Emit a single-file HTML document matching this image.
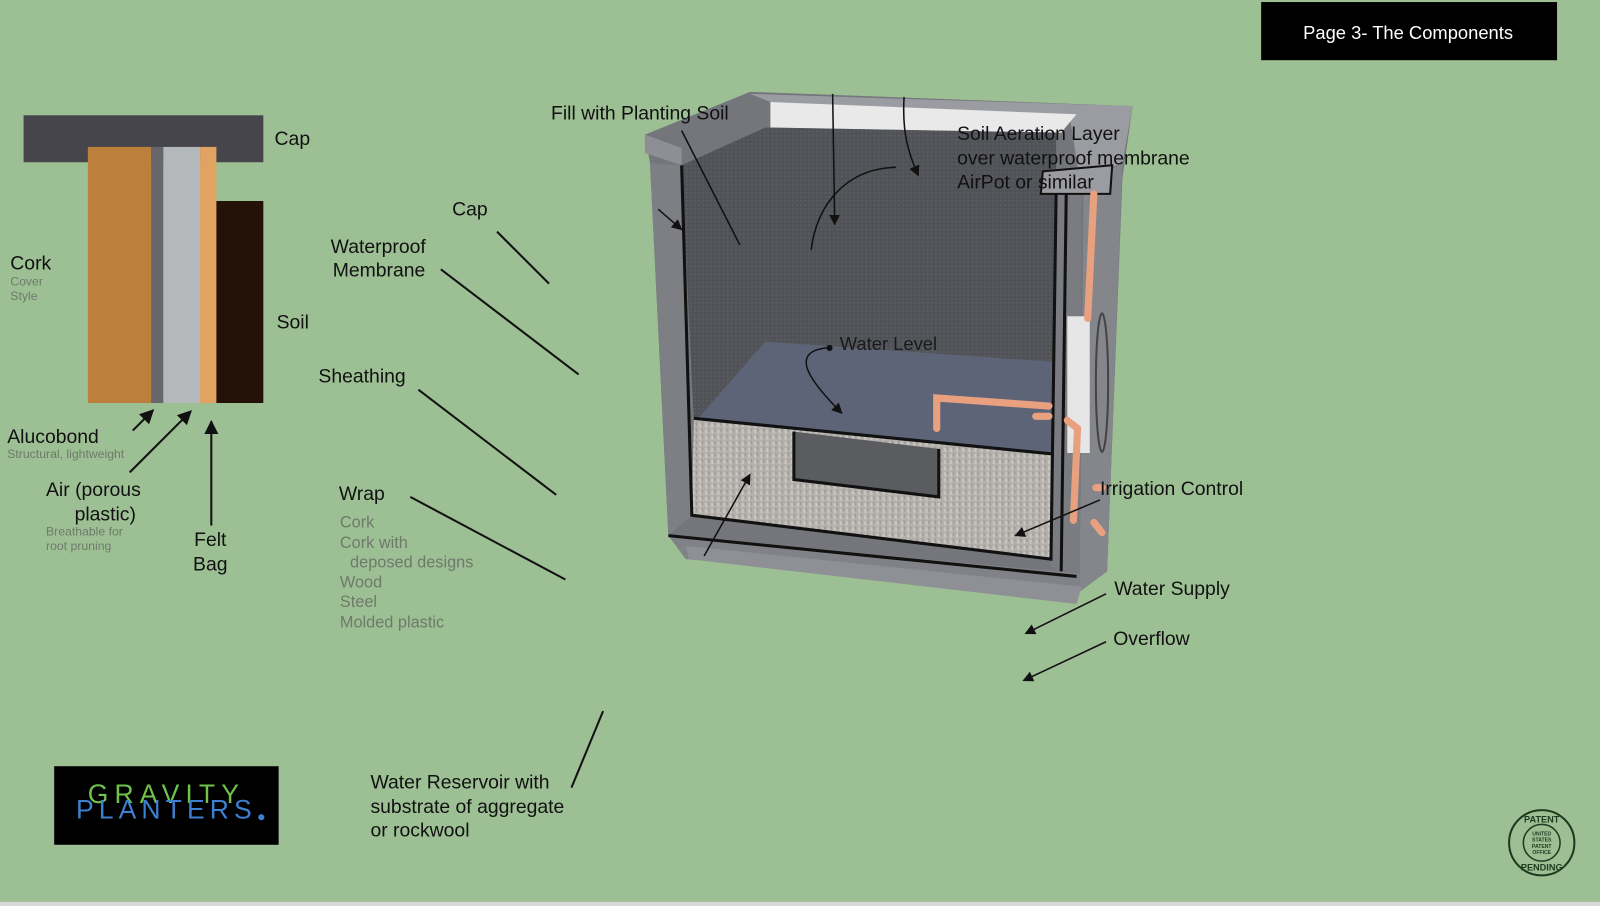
<!DOCTYPE html>
<html><head><meta charset="utf-8"><style>
html,body{margin:0;padding:0;background:#9dbf94;}
svg{display:block}
text{font-family:"Liberation Sans",sans-serif;}
</style></head><body>
<svg width="1600" height="906" viewBox="0 0 1568 888" xmlns="http://www.w3.org/2000/svg">
<defs>
<marker id="a" viewBox="0 0 10 10" refX="9" refY="5" markerWidth="7" markerHeight="7" orient="auto"><path d="M0,0L10,5L0,10z" fill="#111"/></marker>
<pattern id="grav" width="6" height="6" patternUnits="userSpaceOnUse"><rect width="6" height="6" fill="#b3b0ab"/><rect x="1" y="1" width="2" height="4" fill="#cac7c2"/><rect x="4" y="0" width="1" height="3" fill="#96938f"/></pattern>
<pattern id="wall" width="4" height="4" patternUnits="userSpaceOnUse"><rect width="4" height="4" fill="#505257"/><rect width="2" height="2" fill="#5a5c61"/></pattern>
</defs>
<rect width="1568" height="888" fill="#9dbf94"/>
<rect x="0" y="884" width="1568" height="4" fill="#d8d8d8"/>

<rect x="1236" y="2" width="290" height="57" fill="#000"/>
<text x="1380" y="38" font-size="18" fill="#fff" text-anchor="middle">Page 3- The Components</text>

<rect x="23" y="113" width="235" height="46" fill="#46454c"/>
<rect x="86" y="144" width="62" height="251" fill="#bc7f3c"/>
<rect x="148" y="144" width="12" height="251" fill="#66666c"/>
<rect x="160" y="144" width="36" height="251" fill="#b4b8ba"/>
<rect x="196" y="144" width="16" height="251" fill="#e1a362"/>
<rect x="212" y="197" width="46" height="198" fill="#241208"/>
<text x="269" y="142" font-size="19" fill="#111">Cap</text>
<text x="271" y="322" font-size="19" fill="#111">Soil</text>
<text x="10" y="264" font-size="19" fill="#111">Cork</text>
<text x="10" y="280" font-size="12" fill="#6e7a6a">Cover</text>
<text x="10" y="294" font-size="12" fill="#6e7a6a">Style</text>
<text x="7" y="434" font-size="19" fill="#111">Alucobond</text>
<text x="7" y="449" font-size="12" fill="#6e7a6a">Structural, lightweight</text>
<text x="45" y="486" font-size="19" fill="#111">Air (porous</text>
<text x="73" y="510" font-size="19" fill="#111">plastic)</text>
<text x="45" y="525" font-size="12" fill="#6e7a6a">Breathable for</text>
<text x="45" y="539" font-size="12" fill="#6e7a6a">root pruning</text>
<text x="206" y="535" font-size="19" fill="#111" text-anchor="middle">Felt</text>
<text x="206" y="559" font-size="19" fill="#111" text-anchor="middle">Bag</text>
<g stroke="#111" stroke-width="2" fill="none" marker-end="url(#a)">
<line x1="130" y1="422" x2="150" y2="402"/>
<line x1="127" y1="463" x2="187" y2="403"/>
<line x1="207" y1="515" x2="207" y2="413"/>
</g>

<text x="443" y="211" font-size="19" fill="#111">Cap</text>
<text x="324" y="248" font-size="19" fill="#111">Waterproof</text>
<text x="326" y="271" font-size="19" fill="#111">Membrane</text>
<text x="312" y="375" font-size="19" fill="#111">Sheathing</text>
<text x="332" y="490" font-size="19" fill="#111">Wrap</text>
<g font-size="16" fill="#6e7a6a">
<text x="333" y="517">Cork</text>
<text x="333" y="537">Cork with</text>
<text x="343" y="556">deposed designs</text>
<text x="333" y="576">Wood</text>
<text x="333" y="595">Steel</text>
<text x="333" y="615">Molded plastic</text>
</g>
<text x="363" y="773" font-size="19" fill="#111">Water Reservoir with</text>
<text x="363" y="797" font-size="19" fill="#111">substrate of aggregate</text>
<text x="363" y="820" font-size="19" fill="#111">or rockwool</text>
<g stroke="#111" stroke-width="2">
<line x1="487" y1="227" x2="538" y2="278"/>
<line x1="432" y1="264" x2="567" y2="367"/>
<line x1="410" y1="382" x2="545" y2="485"/>
<line x1="402" y1="487" x2="554" y2="568"/>
<line x1="560" y1="772" x2="591" y2="697"/>
</g>

<!-- planter -->
<polygon points="632,132 735,90 1110,104 1102,160 1100,175 1085,560 1058,580 680,548 655,525 637,160" fill="#74767c"/>
<polygon points="735,92 1110,104 1100,160 1058,175 1048,112 755,100" fill="#9a9ca1"/>
<polygon points="755,100 1055,112 1040,130 755,125" fill="#e9e9e9"/>
<polygon points="632,132 668,145 668,162 632,150" fill="#8d8f94"/>
<polygon points="637,160 668,162 678,505 655,525" fill="#7d7f85"/>
<polygon points="668,162 750,125 750,335 680,415" fill="url(#wall)"/>
<polygon points="750,125 1035,130 1035,355 750,335" fill="url(#wall)"/>
<polygon points="680,415 750,335 1035,355 1030,447" fill="#5e6478"/>
<polygon points="680,410 1032,445 1030,548 678,505" fill="url(#grav)"/>
<polygon points="778,423 920,440 920,487 778,470" fill="#5a5c60"/>
<polygon points="1062,180 1100,160 1085,560 1058,580" fill="#84868b"/>
<polygon points="1035,190 1060,185 1058,575 1030,555" fill="#7a7c82"/>
<polygon points="655,525 1058,562 1058,580 672,548" fill="#808287"/>
<polygon points="672,535 1060,575 1055,592 675,548" fill="#8e9095"/>
<g stroke="#111" stroke-width="3" fill="none">
<polyline points="668,162 678,505 1030,548 1035,190"/>
<polyline points="680,410 1032,445"/>
<polyline points="778,423 778,470 920,487 920,440"/>
<line x1="1045" y1="185" x2="1040" y2="560"/>
<line x1="655" y1="525" x2="1055" y2="565"/>
</g>
<polygon points="1022,168 1090,162 1088,190 1020,190" fill="#9a9ca1" stroke="#111" stroke-width="2"/>
<rect x="1046" y="310" width="22" height="134" fill="#e6e6e6"/>
<ellipse cx="1080" cy="375" rx="6" ry="68" fill="none" stroke="#444" stroke-width="2"/>
<g stroke="#e8a07f" stroke-width="7" fill="none" stroke-linecap="round">
<line x1="1072" y1="190" x2="1066" y2="312"/>
<polyline points="918,420 918,390 1028,398"/>
<polyline points="1015,408 1028,408"/>
<polyline points="1046,412 1056,420 1052,510"/>
<line x1="1072" y1="512" x2="1080" y2="522"/>
<line x1="1074" y1="478" x2="1080" y2="478"/>
</g>
<g stroke="#111" stroke-width="1.5" fill="none">
<line x1="816" y1="92" x2="818" y2="220" marker-end="url(#a)"/>
<path d="M886,95 C884,130 890,150 900,172" marker-end="url(#a)"/>
<path d="M878,164 C830,165 800,200 795,245"/>
<line x1="668" y1="128" x2="725" y2="240"/>
<line x1="645" y1="205" x2="668" y2="225" marker-end="url(#a)"/>
<path d="M810,341 C775,345 790,370 825,405" marker-end="url(#a)"/>
<line x1="690" y1="545" x2="735" y2="465" marker-end="url(#a)"/>
<line x1="1078" y1="490" x2="995" y2="525" marker-end="url(#a)"/>
<line x1="1084" y1="582" x2="1005" y2="621" marker-end="url(#a)"/>
<line x1="1084" y1="629" x2="1003" y2="667" marker-end="url(#a)"/>
</g>
<circle cx="813" cy="341" r="3" fill="#111"/>
<text x="540" y="117" font-size="19" fill="#111">Fill with Planting Soil</text>
<text x="938" y="137" font-size="19" fill="#111">Soil Aeration Layer</text>
<text x="938" y="161" font-size="19" fill="#111">over waterproof membrane</text>
<text x="938" y="185" font-size="19" fill="#111">AirPot or similar</text>
<text x="823" y="343" font-size="18" fill="#1a1a1a" font-family="Liberation Serif">Water Level</text>
<text x="1078" y="485" font-size="19" fill="#111">Irrigation Control</text>
<text x="1092" y="583" font-size="19" fill="#111">Water Supply</text>
<text x="1091" y="632" font-size="19" fill="#111">Overflow</text>

<rect x="53" y="751" width="220" height="77" fill="#000"/>
<text x="163" y="787" font-size="26" fill="#6fc24a" text-anchor="middle" letter-spacing="6">GRAVITY</text>
<text x="163" y="802" font-size="26" fill="#3d7fd0" text-anchor="middle" letter-spacing="5">PLANTERS</text>
<circle cx="256" cy="801" r="3" fill="#3d7fd0"/>

<g stroke="#1f3a1f" fill="none">
<circle cx="1511" cy="826" r="32" stroke-width="2"/>
<circle cx="1511" cy="826" r="18" stroke-width="1.5"/>
</g>
<g font-size="5" fill="#1f3a1f" text-anchor="middle" font-weight="bold">
<text x="1511" y="819">UNITED</text><text x="1511" y="825">STATES</text><text x="1511" y="831">PATENT</text><text x="1511" y="837">OFFICE</text>
</g>
<text x="1511" y="806" font-size="9" fill="#1f3a1f" text-anchor="middle" font-weight="bold">PATENT</text>
<text x="1511" y="853" font-size="9" fill="#1f3a1f" text-anchor="middle" font-weight="bold">PENDING</text>
</svg>
</body></html>
